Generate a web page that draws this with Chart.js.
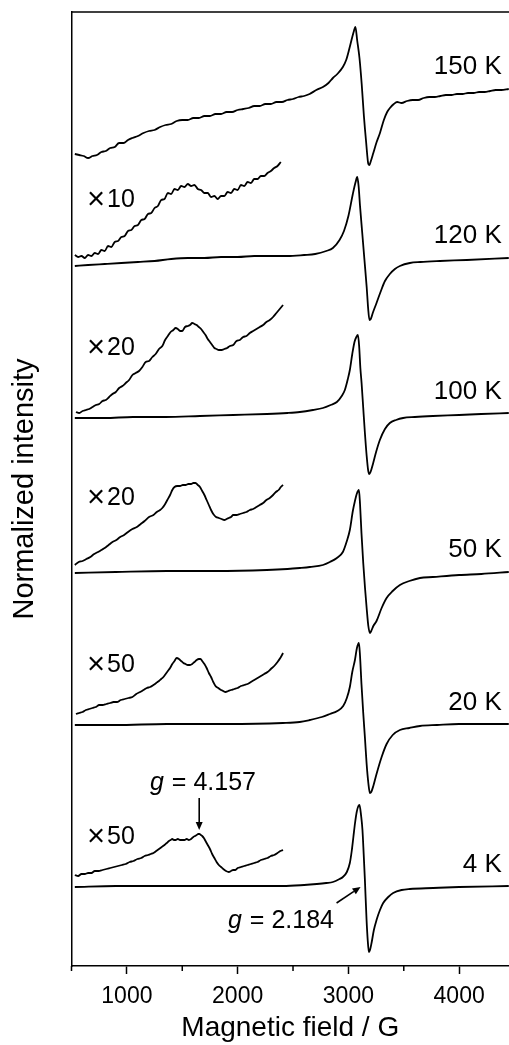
<!DOCTYPE html>
<html>
<head>
<meta charset="utf-8">
<script src="https://cdn.jsdelivr.net/npm/chart.js@4.4.1/dist/chart.umd.min.js"></script>
<style>
  html, body { margin: 0; padding: 0; background: #fff; }
  #wrap { width: 509px; height: 1045px; position: relative; }
</style>
</head>
<body>
<div id="wrap"><canvas id="epr"></canvas></div>
<script>
/* EPR spectra vs temperature, stacked with offsets (arbitrary units) */
const FONT = "'Liberation Sans', Arial, Helvetica, sans-serif";

// axis ticks (G)
const fieldTicks = [1000, 2000, 3000, 4000];
const minorTicks = [500, 1500, 2500, 3500];

// [field / G, normalized intensity incl. offset]
const s150K = [[530,8.12],[570,8.11],[610,8.10],[650,8.08],[690,8.10],[730,8.11],[770,8.14],[810,8.15],[850,8.18],[890,8.19],[930,8.23],[970,8.23],[1010,8.26],[1050,8.28],[1100,8.30],[1150,8.33],[1200,8.35],[1250,8.36],[1300,8.39],[1350,8.41],[1400,8.42],[1450,8.45],[1500,8.46],[1550,8.46],[1600,8.48],[1650,8.48],[1700,8.50],[1750,8.50],[1800,8.52],[1850,8.52],[1900,8.54],[1950,8.54],[2000,8.56],[2050,8.57],[2100,8.58],[2150,8.60],[2200,8.60],[2250,8.62],[2300,8.62],[2350,8.64],[2400,8.64],[2450,8.66],[2500,8.67],[2550,8.69],[2600,8.70],[2650,8.72],[2710,8.76],[2770,8.79],[2820,8.83],[2860,8.88],[2900,8.92],[2950,8.99],[2980,9.06],[3010,9.18],[3035,9.29],[3050,9.35],[3063,9.39],[3080,9.25],[3100,9.08],[3120,8.82],[3140,8.50],[3160,8.24],[3180,8.02],[3190,8.01],[3200,8.04],[3225,8.13],[3255,8.24],[3285,8.33],[3320,8.46],[3350,8.54],[3375,8.58],[3410,8.62],[3440,8.64],[3480,8.63],[3530,8.65],[3580,8.66],[3630,8.66],[3680,8.68],[3730,8.69],[3780,8.69],[3830,8.70],[3880,8.71],[3930,8.71],[3980,8.72],[4030,8.72],[4080,8.73],[4130,8.73],[4180,8.74],[4230,8.74],[4280,8.75],[4330,8.76],[4380,8.76],[4448,8.77]];

const s120K = [[530,7.00],[650,7.01],[800,7.02],[950,7.03],[1100,7.04],[1250,7.05],[1400,7.07],[1550,7.08],[1700,7.08],[1850,7.09],[2000,7.09],[2150,7.10],[2300,7.10],[2450,7.10],[2600,7.11],[2700,7.12],[2800,7.15],[2860,7.18],[2920,7.26],[2960,7.35],[3000,7.50],[3040,7.72],[3065,7.84],[3080,7.89],[3092,7.80],[3105,7.60],[3125,7.33],[3145,7.06],[3165,6.79],[3178,6.58],[3190,6.46],[3202,6.47],[3220,6.53],[3254,6.63],[3290,6.74],[3330,6.85],[3374,6.92],[3420,6.97],[3465,7.00],[3555,7.03],[3650,7.04],[3826,7.05],[4069,7.06],[4448,7.08]];
const s120Kx10 = [[530,7.11],[560,7.09],[590,7.10],[620,7.08],[650,7.11],[680,7.10],[710,7.13],[740,7.12],[770,7.16],[800,7.15],[830,7.20],[860,7.19],[890,7.24],[920,7.25],[950,7.29],[980,7.30],[1010,7.35],[1040,7.36],[1070,7.40],[1100,7.41],[1130,7.46],[1160,7.47],[1190,7.52],[1220,7.53],[1250,7.58],[1280,7.60],[1310,7.66],[1340,7.67],[1370,7.73],[1400,7.72],[1430,7.77],[1460,7.76],[1490,7.80],[1520,7.79],[1550,7.82],[1580,7.80],[1610,7.81],[1640,7.77],[1670,7.76],[1700,7.73],[1730,7.73],[1760,7.69],[1790,7.70],[1820,7.67],[1850,7.70],[1880,7.70],[1910,7.74],[1940,7.73],[1970,7.77],[2000,7.76],[2030,7.81],[2060,7.80],[2090,7.84],[2120,7.83],[2150,7.87],[2180,7.87],[2210,7.90],[2240,7.90],[2270,7.93],[2300,7.95],[2330,7.98],[2360,8.00],[2390,8.04]];

const s100K = [[530,5.48],[800,5.48],[1055,5.49],[1350,5.49],[1660,5.50],[1960,5.51],[2264,5.52],[2450,5.53],[2562,5.54],[2680,5.56],[2770,5.58],[2840,5.61],[2896,5.64],[2940,5.70],[2968,5.76],[2995,5.87],[3013,5.96],[3035,6.12],[3055,6.24],[3072,6.29],[3086,6.31],[3097,6.20],[3108,5.98],[3119,5.83],[3134,5.58],[3149,5.33],[3165,5.10],[3178,4.96],[3188,4.92],[3200,4.94],[3224,5.03],[3250,5.14],[3284,5.26],[3330,5.37],[3374,5.43],[3430,5.46],[3494,5.48],[3600,5.49],[3762,5.50],[4000,5.51],[4200,5.52],[4448,5.53]];
const s100Kx20 = [[540,5.54],[570,5.53],[600,5.55],[630,5.56],[660,5.57],[690,5.59],[720,5.61],[750,5.62],[780,5.65],[810,5.66],[840,5.69],[870,5.72],[900,5.74],[930,5.78],[960,5.80],[990,5.83],[1020,5.86],[1050,5.91],[1080,5.93],[1110,5.95],[1140,5.99],[1170,6.04],[1200,6.05],[1230,6.09],[1260,6.12],[1290,6.17],[1320,6.20],[1345,6.26],[1370,6.30],[1395,6.34],[1420,6.36],[1440,6.38],[1460,6.37],[1480,6.35],[1500,6.35],[1525,6.39],[1550,6.40],[1570,6.41],[1590,6.43],[1610,6.42],[1630,6.41],[1650,6.39],[1670,6.37],[1690,6.34],[1710,6.31],[1730,6.27],[1750,6.24],[1770,6.21],[1790,6.18],[1810,6.17],[1830,6.16],[1855,6.16],[1880,6.17],[1905,6.18],[1930,6.20],[1960,6.21],[1990,6.25],[2020,6.26],[2050,6.29],[2080,6.30],[2110,6.33],[2140,6.35],[2170,6.37],[2200,6.39],[2230,6.41],[2260,6.44],[2290,6.46],[2320,6.49],[2350,6.53],[2380,6.57],[2410,6.61]];

const s50K = [[530,3.93],[900,3.94],[1362,3.95],[1800,3.95],[2264,3.96],[2450,3.97],[2562,3.98],[2652,3.99],[2770,4.01],[2833,4.04],[2896,4.08],[2950,4.14],[2986,4.25],[3013,4.36],[3040,4.55],[3059,4.65],[3075,4.72],[3095,4.76],[3105,4.62],[3118,4.33],[3134,4.03],[3150,3.78],[3164,3.59],[3180,3.40],[3194,3.33],[3206,3.35],[3225,3.40],[3254,3.45],[3300,3.58],[3345,3.68],[3400,3.75],[3465,3.81],[3550,3.85],[3646,3.88],[3762,3.89],[4000,3.91],[4200,3.92],[4448,3.94]];
const s50Kx20 = [[530,4.01],[565,4.04],[600,4.05],[635,4.07],[670,4.09],[705,4.12],[740,4.14],[770,4.16],[800,4.18],[835,4.21],[870,4.24],[905,4.26],[940,4.29],[975,4.31],[1010,4.34],[1050,4.37],[1090,4.39],[1125,4.42],[1160,4.45],[1200,4.49],[1240,4.51],[1270,4.54],[1300,4.56],[1320,4.58],[1340,4.61],[1365,4.66],[1390,4.71],[1410,4.76],[1430,4.79],[1455,4.80],[1480,4.80],[1505,4.81],[1530,4.81],[1555,4.82],[1580,4.82],[1600,4.83],[1620,4.83],[1640,4.81],[1660,4.79],[1680,4.75],[1700,4.71],[1720,4.66],[1740,4.61],[1760,4.56],[1780,4.52],[1805,4.49],[1830,4.48],[1855,4.47],[1880,4.46],[1900,4.47],[1920,4.48],[1940,4.49],[1960,4.51],[1990,4.51],[2020,4.52],[2050,4.53],[2080,4.54],[2110,4.56],[2140,4.57],[2170,4.59],[2200,4.61],[2230,4.63],[2260,4.66],[2290,4.68],[2320,4.71],[2345,4.74],[2370,4.76],[2390,4.79],[2410,4.81]];

const s20K = [[530,2.41],[900,2.41],[1362,2.42],[1900,2.42],[2408,2.43],[2560,2.44],[2652,2.46],[2760,2.49],[2833,2.52],[2900,2.55],[2953,2.60],[2986,2.68],[3013,2.79],[3035,2.94],[3059,3.06],[3077,3.18],[3095,3.23],[3105,3.10],[3118,2.82],[3134,2.53],[3150,2.27],[3164,2.03],[3180,1.83],[3194,1.73],[3206,1.74],[3225,1.80],[3254,1.92],[3300,2.09],[3345,2.22],[3400,2.31],[3465,2.36],[3550,2.38],[3646,2.40],[3800,2.41],[4000,2.42],[4448,2.42]];
const s20Kx50 = [[540,2.52],[570,2.53],[600,2.54],[630,2.56],[660,2.57],[690,2.58],[720,2.59],[750,2.61],[780,2.61],[815,2.62],[850,2.63],[880,2.64],[910,2.64],[945,2.66],[980,2.67],[1015,2.68],[1050,2.69],[1085,2.72],[1120,2.74],[1150,2.76],[1180,2.78],[1210,2.79],[1240,2.81],[1265,2.83],[1290,2.85],[1310,2.87],[1330,2.89],[1350,2.92],[1370,2.95],[1390,2.98],[1410,3.02],[1430,3.05],[1450,3.08],[1470,3.07],[1490,3.05],[1510,3.03],[1530,3.02],[1550,3.01],[1570,3.01],[1590,3.02],[1610,3.04],[1630,3.06],[1650,3.07],[1665,3.07],[1680,3.05],[1700,3.02],[1720,2.98],[1740,2.93],[1760,2.89],[1780,2.84],[1800,2.80],[1825,2.78],[1850,2.76],[1870,2.75],[1890,2.74],[1915,2.75],[1940,2.76],[1970,2.77],[2000,2.78],[2030,2.80],[2060,2.81],[2090,2.82],[2120,2.84],[2150,2.86],[2180,2.88],[2210,2.90],[2240,2.92],[2270,2.94],[2300,2.97],[2330,3.00],[2360,3.04],[2385,3.08],[2410,3.13]];

const s4K = [[530,0.79],[900,0.80],[1300,0.80],[1900,0.80],[2408,0.80],[2600,0.81],[2715,0.82],[2800,0.83],[2860,0.84],[2920,0.87],[2950,0.89],[2986,0.94],[3013,1.03],[3030,1.15],[3045,1.29],[3060,1.43],[3075,1.54],[3090,1.60],[3100,1.61],[3115,1.50],[3127,1.36],[3138,1.12],[3149,0.86],[3164,0.46],[3175,0.25],[3185,0.14],[3195,0.16],[3209,0.23],[3230,0.36],[3254,0.46],[3285,0.56],[3314,0.63],[3360,0.69],[3404,0.73],[3480,0.76],[3555,0.77],[3765,0.78],[4000,0.79],[4448,0.80]];
const s4Kx50 = [[530,0.91],[560,0.90],[590,0.92],[620,0.92],[650,0.93],[680,0.93],[710,0.95],[745,0.95],[780,0.96],[815,0.97],[850,0.98],[885,0.99],[920,1.00],[955,1.01],[990,1.02],[1025,1.04],[1060,1.05],[1095,1.07],[1130,1.08],[1160,1.10],[1190,1.11],[1215,1.12],[1240,1.13],[1265,1.15],[1290,1.17],[1315,1.19],[1340,1.21],[1360,1.23],[1380,1.25],[1395,1.26],[1410,1.27],[1425,1.26],[1440,1.26],[1460,1.27],[1480,1.26],[1500,1.26],[1520,1.26],[1540,1.27],[1560,1.26],[1580,1.27],[1600,1.29],[1615,1.30],[1630,1.31],[1645,1.32],[1655,1.32],[1668,1.31],[1680,1.30],[1695,1.28],[1710,1.25],[1730,1.21],[1750,1.17],[1770,1.12],[1790,1.08],[1810,1.04],[1830,1.01],[1850,0.99],[1870,0.97],[1895,0.95],[1920,0.94],[1940,0.95],[1960,0.96],[1980,0.96],[2000,0.98],[2030,0.99],[2060,1.00],[2090,1.01],[2120,1.02],[2150,1.03],[2180,1.04],[2210,1.06],[2240,1.07],[2270,1.08],[2300,1.10],[2330,1.11],[2360,1.13],[2385,1.15],[2410,1.16]];

const spectra = [s150K, s120K, s120Kx10, s100K, s100Kx20, s50K, s50Kx20, s20K, s20Kx50, s4K, s4Kx50];

// text annotations
const tempLabels = ['150 K', '120 K', '100 K', '50 K', '20 K', '4 K'];
const tempLabelY = [8.99, 7.30, 5.74, 4.16, 2.63, 1.01];
const gainLabels = ['10', '20', '20', '50', '50'];
const gainLabelY = [7.66, 6.18, 4.68, 3.01, 1.29];
const gMarks = [
  { text: '4.157', at: [1208, 1.76], arrow: [[1653, 1.68], [1653, 1.36]] },
  { text: '2.184', at: [1912, 0.38], arrow: [[2893, 0.63], [3110, 0.79]] },
];

function drawArrow(ctx, x1, y1, x2, y2) {
  const a = Math.atan2(y2 - y1, x2 - x1), L = 8, W = 3.5;
  const bx = x2 - L * Math.cos(a), by = y2 - L * Math.sin(a);
  ctx.beginPath(); ctx.moveTo(x1, y1); ctx.lineTo(bx, by); ctx.stroke();
  ctx.beginPath();
  ctx.moveTo(x2, y2);
  ctx.lineTo(bx + W * Math.sin(a), by - W * Math.cos(a));
  ctx.lineTo(bx - W * Math.sin(a), by + W * Math.cos(a));
  ctx.closePath(); ctx.fill();
}

const decorPlugin = {
  id: 'decor',
  afterDraw(chart) {
    const { ctx, chartArea: ca, scales: { x, y } } = chart;
    ctx.save();
    ctx.strokeStyle = '#000';
    ctx.fillStyle = '#000';
    ctx.lineWidth = 1.5;
    // top frame
    ctx.beginPath(); ctx.moveTo(ca.left, ca.top); ctx.lineTo(ca.right, ca.top); ctx.stroke();
    // minor ticks
    ctx.beginPath();
    minorTicks.forEach(v => {
      const px = x.getPixelForValue(v);
      ctx.moveTo(px, ca.bottom); ctx.lineTo(px, ca.bottom + 5);
    });
    ctx.stroke();

    ctx.textBaseline = 'middle';
    ctx.font = `26px ${FONT}`;
    ctx.textAlign = 'right';
    tempLabels.forEach((t, i) => ctx.fillText(t, x.getPixelForValue(4385), y.getPixelForValue(tempLabelY[i])));

    // gain factors: a larger multiplication sign, then the digits
    ctx.textAlign = 'left';
    gainLabels.forEach((t, i) => {
      const px = x.getPixelForValue(650), py = y.getPixelForValue(gainLabelY[i]);
      ctx.font = `31px ${FONT}`;
      ctx.fillText('×', px - 1, py);
      ctx.font = `25px ${FONT}`;
      ctx.fillText(t, px + 19, py);
    });

    ctx.textBaseline = 'alphabetic';
    ctx.lineWidth = 1.6;
    gMarks.forEach(m => {
      let px = x.getPixelForValue(m.at[0]);
      const py = y.getPixelForValue(m.at[1]);
      ctx.font = `italic 25px ${FONT}`;
      ctx.fillText('g', px, py);
      px += ctx.measureText('g').width + 8;
      ctx.font = `25px ${FONT}`;
      ctx.fillText('=', px, py);
      px += ctx.measureText('=').width + 7;
      ctx.fillText(m.text, px, py);
      const [p1, p2] = m.arrow;
      drawArrow(ctx, x.getPixelForValue(p1[0]), y.getPixelForValue(p1[1]),
                     x.getPixelForValue(p2[0]), y.getPixelForValue(p2[1]));
    });
    ctx.restore();
  }
};

new Chart(document.getElementById('epr'), {
  type: 'line',
  data: {
    datasets: spectra.map(s => ({
      data: s.map(([f, v]) => ({ x: f, y: v })),
      borderColor: '#000',
      borderWidth: 1.8,
      pointRadius: 0,
      cubicInterpolationMode: 'monotone',
      fill: false,
    })),
  },
  options: {
    responsive: true,
    maintainAspectRatio: false,
    devicePixelRatio: 1,
    animation: false,
    layout: { padding: { top: 12, left: 0, right: 0, bottom: 0 } },
    plugins: { legend: { display: false }, tooltip: { enabled: false } },
    scales: {
      x: {
        type: 'linear',
        min: 500,
        max: 4450,
        afterFit: s => { s.height = 79; },
        afterBuildTicks: s => { s.ticks = fieldTicks.map(v => ({ value: v })); },
        grid: { drawOnChartArea: false, drawTicks: true, tickLength: 8, tickWidth: 1.5, tickColor: '#000' },
        border: { display: true, color: '#000', width: 1.5 },
        ticks: { color: '#000', padding: 9, maxRotation: 0, font: { family: FONT, size: 23 }, callback: v => String(v) },
        title: { display: true, text: 'Magnetic field / G', color: '#000', padding: { top: 0, bottom: 0 }, font: { family: FONT, size: 28 } },
      },
      y: {
        type: 'linear',
        min: 0,
        max: 9.54,
        afterFit: s => { s.width = 71.5; },
        grid: { display: false },
        border: { display: true, color: '#000', width: 1.5 },
        ticks: { display: false },
        title: { display: true, text: 'Normalized intensity', color: '#000', padding: { top: 8, bottom: 0 }, font: { family: FONT, size: 29 } },
      },
    },
  },
  plugins: [decorPlugin],
});
</script>
</body>
</html>
